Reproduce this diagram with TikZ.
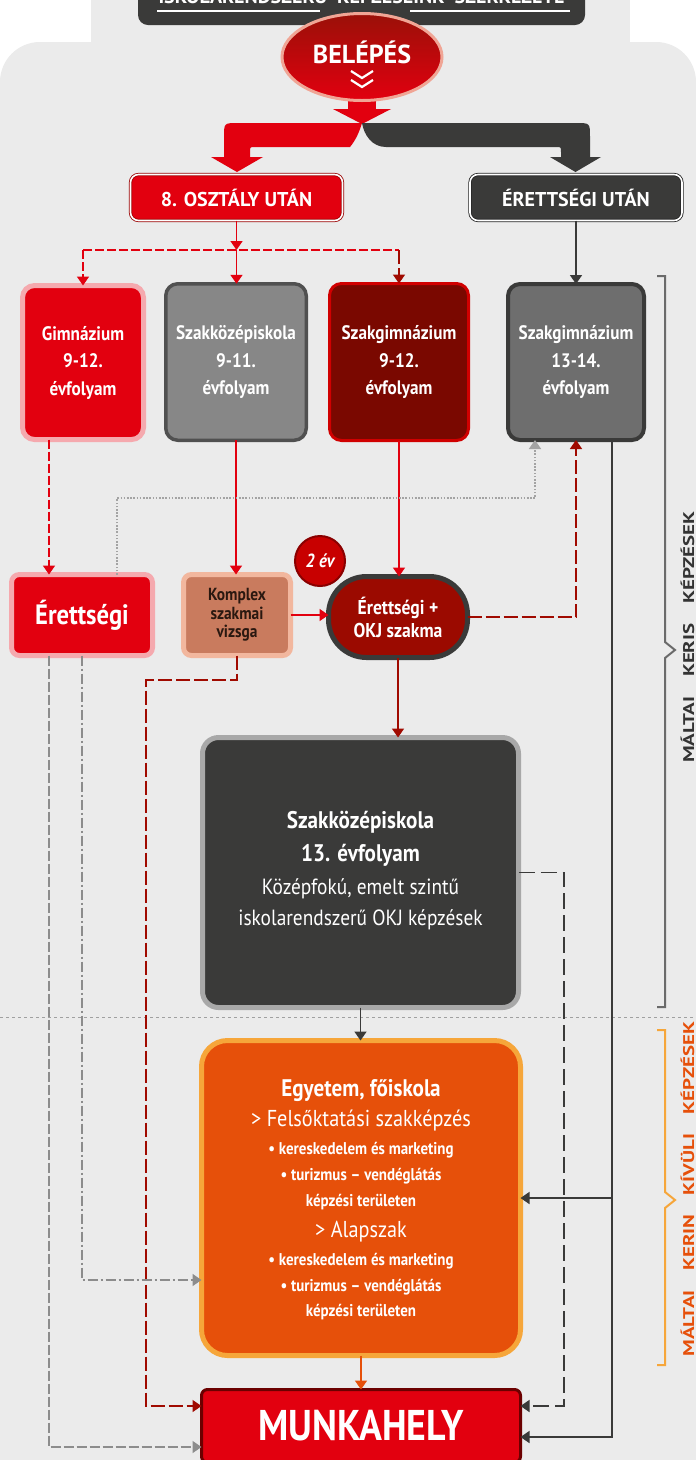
\documentclass[tikz,border=0pt]{standalone}
\usepackage{fontspec}
\setmainfont{PT Sans}[FakeStretch=0.88]
\newfontfamily\capfont{PT Sans}
\usetikzlibrary{arrows.meta,shapes.geometric,calc}
\newcommand\fsz[2]{\fontsize{#1pt}{#2pt}\selectfont}
\definecolor{panel}{HTML}{EBEBEB}
\definecolor{rd}{HTML}{E2000F}
\definecolor{drd}{HTML}{A00A00}
\definecolor{dk}{HTML}{3A3A39}
\definecolor{orn}{HTML}{E6500A}
\definecolor{orl}{HTML}{F6A63A}
\definecolor{pinkrim}{HTML}{F5A9AE}
\definecolor{grybox}{HTML}{878787}
\definecolor{grybrd}{HTML}{505050}
\definecolor{gry13}{HTML}{6E6E6E}
\definecolor{szgfill}{HTML}{7A0800}
\definecolor{szgbrd}{HTML}{D00000}
\definecolor{okjfill}{HTML}{9B0A00}
\definecolor{salmon}{HTML}{C97B5E}
\definecolor{salmonrim}{HTML}{F2B79E}
\definecolor{szkrim}{HTML}{A8A8A8}
\definecolor{munbrd}{HTML}{6B0000}
\definecolor{lgry}{HTML}{8C8C8C}
\definecolor{brk}{HTML}{6A6A6A}
\definecolor{elltop}{HTML}{9A1008}
\definecolor{ellrim}{HTML}{F0A595}
\definecolor{oszbrd}{HTML}{9A0000}
\definecolor{erubrd}{HTML}{222222}
\definecolor{komtxt}{HTML}{2A1810}
\definecolor{evfill}{HTML}{C80000}
\definecolor{evbrd}{HTML}{8A0000}
\definecolor{sepc}{HTML}{A0A0A0}
\definecolor{labtxt}{HTML}{333333}
\tikzset{
  base/.style={inner sep=0pt, outer sep=0pt, text=white, align=center},
  topbox/.style={base, rounded corners=8pt, line width=0.8pt, double distance=1.6pt, double=white, minimum width=212pt, minimum height=46pt, font=\capfont\bfseries\fsz{20}{22}},
  rowbox/.style={base, rounded corners=12pt, font=\bfseries\fsz{19.5}{27.5}},
  midbox/.style={base, rounded corners=8pt},
  txt/.style={inner sep=0pt, outer sep=0pt, text=white, anchor=base},
  conn/.style={line width=1.6pt},
  rsolid/.style={conn, draw=rd},
  rdash/.style={conn, draw=rd, dash pattern=on 9pt off 3pt},
  drsolid/.style={conn, draw=drd},
  drdash/.style={conn, draw=drd, dash pattern=on 14pt off 4pt},
  dsolid/.style={conn, draw=dk},
  ddash/.style={conn, draw=dk, dash pattern=on 16pt off 6pt},
  gdot/.style={conn, draw=lgry!80, dash pattern=on 1.6pt off 1.6pt},
  gdash/.style={conn, draw=lgry, dash pattern=on 10pt off 3pt},
  gdashdot/.style={conn, draw=lgry, dash pattern=on 10pt off 3pt on 2pt off 3pt},
  osolid/.style={conn, draw=orn},
  sidelab/.style={rotate=90, inner sep=0pt, font=\capfont\bfseries\fsz{15.5}{16}},
}
\begin{document}
\begin{tikzpicture}[x=1pt,y=-1pt, >={Triangle[width=12pt,length=9pt]}]
\useasboundingbox (0,0) rectangle (696,1460);
\clip (0,0) rectangle (696,1460);
\fill[white] (0,0) rectangle (696,1460);
% background panel
\fill[panel] (91,-5) rectangle (630,90);
\fill[panel, rounded corners=40pt] (0,42) rectangle (696,1520);

% title box (cut off)
\node[base, fill=dk, rounded corners=10pt, minimum width=447pt, minimum height=55pt] (title) at (361.5,-2.5) {};
\node[txt, font=\capfont\bfseries\fsz{20}{20}] (titletext) at (361.5,3) {ISKOLARENDSZERŰ\ \ KÉPZÉSEINK\ \ SZERKEZETE};
\draw[white, line width=1.5pt] (title.south west) ++(19,-14) coordinate (tl1) -- ++(163,0);
\draw[white, line width=1.5pt] (title.south east) ++(-15,-14) coordinate (tl2) -- ++(-160,0);

% entry arrow shaft and bands
\fill[rd] (348,96) rectangle (376,112);
\fill[rd] (333,109) -- (391,109) -- (362,124) -- cycle;
\fill[rd] (362,123) -- (238,123) .. controls (224,123) .. (224,137) -- (224,158) -- (250,158) -- (250,152) .. controls (250,147) .. (255,147) -- (350,147) .. controls (356,140) and (360,130) .. (362,123) -- cycle;
\fill[rd] (211,157) -- (263,157) -- (237,172) -- cycle;
\fill[dk] (362,123) -- (576,123) .. controls (590,123) .. (590,137) -- (590,158) -- (561,158) -- (561,152) .. controls (561,147) .. (556,147) -- (386,147) .. controls (372,147) and (364,135) .. (362,123) -- cycle;
\fill[dk] (550,157) -- (601,157) -- (575.5,172) -- cycle;

% BELÉPÉS
\node[ellipse, inner sep=0pt, minimum width=160pt, minimum height=87pt, top color=elltop, bottom color=rd, draw=ellrim, line width=3pt] (enter) at (362,57) {};
\node[txt, font=\capfont\bfseries\fsz{26}{26}] (entertext) at (362,63) {BELÉPÉS};
\draw[white, line width=2.2pt] (enter.center) ++(-11,14) -- ++(11,7) -- ++(11,-7);
\draw[white, line width=2.2pt] (enter.center) ++(-11,23) -- ++(11,7) -- ++(11,-7);

% top boxes
\node[topbox, draw=oszbrd, fill=rd] (osz) at (236.5,197.5) {8. OSZTÁLY UTÁN};
\node[topbox, draw=erubrd, fill=dk] (eru) at (576,197.5) {ÉRETTSÉGI UTÁN};

% row 1
\node[rowbox, fill=rd, draw=pinkrim, line width=5pt, minimum width=121pt, minimum height=154pt] (gim) at (83,362.5) {Gimnázium\\9-12.\\évfolyam};
\node[rowbox, fill=grybox, draw=grybrd, line width=3.5pt, minimum width=140.5pt, minimum height=156.5pt] (szk) at (236,362) {Szakközépiskola\\9-11.\\évfolyam};
\node[rowbox, fill=szgfill, draw=szgbrd, line width=3pt, minimum width=139pt, minimum height=157pt] (szg) at (399,362) {Szakgimnázium\\9-12.\\évfolyam};
\node[rowbox, fill=gry13, draw=dk, line width=4pt, minimum width=136pt, minimum height=156pt] (szg13) at (576,362) {Szakgimnázium\\13-14.\\évfolyam};

% row 2
\node[midbox, fill=rd, draw=pinkrim, line width=5pt, minimum width=141pt, minimum height=81pt, font=\bfseries\fsz{28}{28}] (ere) at (82,615) {Érettségi};
\node[midbox, fill=salmon, draw=salmonrim, line width=5pt, minimum width=107pt, minimum height=81pt, text=komtxt, font=\bfseries\fsz{17.5}{18.5}] (kom) at (237,615) {Komplex\\szakmai\\vizsga};
\node[midbox, rounded corners=38pt, fill=okjfill, draw=dk, line width=5pt, minimum width=139pt, minimum height=81pt, font=\bfseries\fsz{20}{23}] (okj) at (398,617) {Érettségi +\\OKJ szakma};
\node[circle, base, fill=evfill, draw=evbrd, line width=2pt, minimum size=50pt, font=\bfseries\itshape\fsz{19}{19}] (ev) at (320,561) {2 év};

% Szakközépiskola 13
\node[midbox, rounded corners=16pt, fill=dk, draw=szkrim, line width=5pt, minimum width=316pt, minimum height=270pt] (szk13) at (360.5,872.5) {};
\node[txt, font=\bfseries\fsz{24}{24}] (s1) at (360.5,828) {Szakközépiskola};
\node[txt, font=\bfseries\fsz{24}{24}] (s2) at (360.5,861) {13. évfolyam};
\node[txt, font=\fsz{22}{22}] (s3) at (360.5,894) {Középfokú, emelt szintű};
\node[txt, font=\fsz{22}{22}] (s4) at (360.5,925) {iskolarendszerű OKJ képzések};

% Egyetem
\node[midbox, rounded corners=26pt, fill=orn, draw=orl, line width=5pt, minimum width=319pt, minimum height=315pt] (egy) at (361,1198) {};
\node[txt, font=\bfseries\fsz{24}{24}] (e1) at (361,1096) {Egyetem, főiskola};
\node[txt, font=\fsz{23}{23}] (e2) at (361,1126) {> Felsőktatási szakképzés};
\node[txt, font=\bfseries\fsz{17}{17}] (e3) at (361,1154) {• kereskedelem és marketing};
\node[txt, font=\bfseries\fsz{17}{17}] (e4) at (361,1180) {• turizmus – vendéglátás};
\node[txt, font=\bfseries\fsz{17}{17}] (e5) at (361,1206) {képzési területen};
\node[txt, font=\fsz{23}{23}] (e6) at (361,1237) {> Alapszak};
\node[txt, font=\bfseries\fsz{17}{17}] (e7) at (361,1265) {• kereskedelem és marketing};
\node[txt, font=\bfseries\fsz{17}{17}] (e8) at (361,1291) {• turizmus – vendéglátás};
\node[txt, font=\bfseries\fsz{17}{17}] (e9) at (361,1316) {képzési területen};

% Munkahely
\node[midbox, rounded corners=6pt, fill=rd, draw=munbrd, line width=3pt, minimum width=319pt, minimum height=73pt, font=\bfseries\fsz{43}{43}] (mun) at (361,1426) {MUNKAHELY};

% separator
\draw[draw=sepc, line width=1pt, dash pattern=on 3pt off 3pt] (0,1017) coordinate (sepl) -- (696,1017) coordinate (sepr);

% connectors
\coordinate (hub) at (236.5,250);
\draw[rsolid,->] (osz.south) -- (hub);
\draw[rdash] (hub -| gim.north) -- (hub -| szg.north);
\draw[rdash,->] (hub -| gim.north) -- (gim.north);
\draw[rsolid,->] (hub) -- (hub |- szk.north);
\draw[drdash,->] (hub -| szg.north) -- (szg.north);
\draw[dsolid,->] (eru.south) -- (szg13.north);

\draw[rdash,->] (gim.south -| 49,0) -- (ere.north -| 49,0);
\draw[rsolid,->] (szk.south) -- (szk.south |- kom.north);
\draw[rsolid,->] (szg.south) -- (szg.south |- okj.north);
\draw[rsolid,->] (kom.east) -- (kom.east -| okj.west);
\draw[drdash,->] (okj.east) -- (okj.east -| szg13.south) -- (szg13.south);
\draw[gdot,->] (ere.north -| 117,0) |- (535,498) -- (szg13.south -| 535,0);
\draw[drsolid,->] (okj.south) -- (okj.south |- szk13.north);
\draw[drdash,->] (kom.south) -- (kom.south |- 0,680) -| (146,1406) -- (mun.west |- 0,1406);
\draw[gdash,->] (ere.south -| 49,0) |- (mun.west |- 0,1447);
\draw[gdashdot,->] (ere.south) |- (egy.west |- 0,1280);
\draw[dsolid,->] (szg13.south -| 612,0) |- (mun.east |- 0,1437);
\draw[dsolid,->] (612,0 |- egy.east) -- (egy.east);
\draw[ddash,->] (szk13.east) -| (564,1406) -- (mun.east |- 0,1406);
\draw[dsolid,->] (szk13.south) -- (szk13.south |- egy.north);
\draw[osolid,->] (egy.south) -- (egy.south |- mun.north);

% brackets
\draw[brk, line width=2pt] (657,276) -- (665,276) -- (665,642) -- (675,650) -- (665,658) -- (665,1007) -- (657,1007);
\node[sidelab, text=labtxt] (lab1) at (687.5,637) {\scalebox{1.35}[1]{MÁLTAI\hspace{14.5pt}KERIS\hspace{14.5pt}KÉPZÉSEK}};
\draw[orl, line width=2pt] (657,1030) -- (665,1030) -- (665,1192) -- (675,1200) -- (665,1208) -- (665,1365) -- (657,1365);
\node[sidelab, text=orn] (lab2) at (687.5,1189) {\scalebox{1.35}[1]{MÁLTAI\hspace{14.5pt}KERIN\hspace{14.5pt}KÍVÜLI\hspace{14.5pt}KÉPZÉSEK}};
\end{tikzpicture}
\end{document}
